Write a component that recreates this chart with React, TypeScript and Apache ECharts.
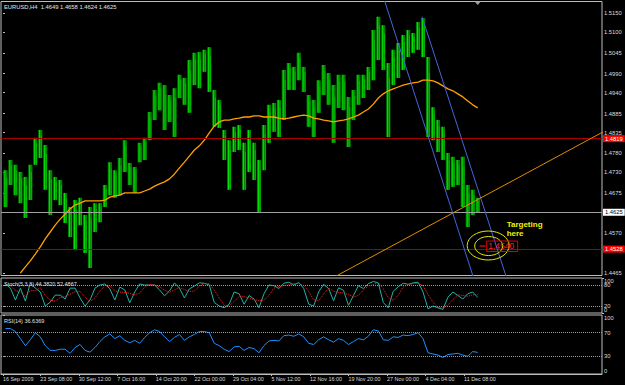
import React, { useEffect, useRef } from "react";
import * as echarts from "echarts";

const FONT = "'Liberation Sans', Arial, sans-serif";

// ---- data ----
const SYMBOL = "EURUSD,H4";
const LAST_OHLC = ["1.4649", "1.4658", "1.4624", "1.4625"];
const BARS_PER_SAMPLE = 4; // each sample summarises 4 H4 bars
const FIRST_SAMPLE_BAR = 2;

const HIGH = [
  1.4736, 1.4763, 1.475, 1.4731, 1.4718, 1.475, 1.4821, 1.4842, 1.4802, 1.4736,
  1.4718, 1.471, 1.4676, 1.4639, 1.4657, 1.4663, 1.4618, 1.4639, 1.4649, 1.4649,
  1.4697, 1.4757, 1.4736, 1.4768, 1.4815, 1.4755, 1.4744, 1.4808, 1.4821, 1.4889,
  1.4947, 1.4966, 1.496, 1.4934, 1.4952, 1.4987, 1.4979, 1.5026, 1.5045, 1.5047,
  1.5053, 1.506, 1.4947, 1.4921, 1.4842, 1.4815, 1.485, 1.4855, 1.4808, 1.4842,
  1.4808, 1.4763, 1.4855, 1.4908, 1.4913, 1.4921, 1.5, 1.5018, 1.5008, 1.5045,
  1.5008, 1.4934, 1.4921, 1.4973, 1.5013, 1.4992, 1.496, 1.4987, 1.4987, 1.4929,
  1.4947, 1.4987, 1.4987, 1.5008, 1.5105, 1.514, 1.5118, 1.5018, 1.5053, 1.5071,
  1.5092, 1.5105, 1.5097, 1.5126, 1.5137, 1.5034, 1.4902, 1.4868, 1.485, 1.4781,
  1.4771, 1.4763, 1.4771, 1.4697, 1.4684, 1.4663,
];
const LOW = [
  1.4639, 1.4697, 1.467, 1.4649, 1.461, 1.4657, 1.475, 1.4768, 1.4684, 1.4618,
  1.4657, 1.4644, 1.4597, 1.456, 1.4526, 1.4591, 1.4518, 1.4478, 1.4573, 1.4599,
  1.4639, 1.467, 1.4663, 1.467, 1.4731, 1.4697, 1.4676, 1.4757, 1.4763, 1.4815,
  1.4868, 1.4894, 1.4842, 1.4863, 1.4823, 1.4926, 1.4908, 1.4887, 1.496, 1.4952,
  1.4995, 1.4942, 1.485, 1.4847, 1.4763, 1.4684, 1.4784, 1.4789, 1.4684, 1.4731,
  1.471, 1.4626, 1.4736, 1.4808, 1.4837, 1.4823, 1.4868, 1.4947, 1.4947, 1.4973,
  1.4942, 1.485, 1.4823, 1.4887, 1.4934, 1.4908, 1.4808, 1.49, 1.4894, 1.4797,
  1.4868, 1.4908, 1.4926, 1.4947, 1.4973, 1.5026, 1.5, 1.4823, 1.496, 1.4979,
  1.5, 1.5034, 1.5045, 1.5053, 1.5034, 1.4823, 1.4815, 1.4784, 1.4763, 1.4684,
  1.4692, 1.4697, 1.4639, 1.4586, 1.4618, 1.4623,
];
const MA = [
  null, null, null, 1.4465, 1.4481, 1.4497, 1.4515, 1.4534, 1.4555, 1.4573,
  1.4591, 1.4607, 1.462, 1.4634, 1.4644, 1.4649, 1.4655, 1.4655, 1.4655, 1.4655,
  1.4657, 1.4665, 1.4668, 1.467, 1.4676, 1.4676, 1.4676, 1.4676, 1.4681, 1.4686,
  1.4694, 1.47, 1.4705, 1.4713, 1.4726, 1.4742, 1.4757, 1.4773, 1.4789, 1.48,
  1.4815, 1.4834, 1.4852, 1.4863, 1.4868, 1.4868, 1.4871, 1.4873, 1.4876, 1.4876,
  1.4879, 1.4879, 1.4876, 1.4876, 1.4876, 1.4873, 1.4871, 1.4873, 1.4876, 1.4879,
  1.4881, 1.4879, 1.4873, 1.4871, 1.4868, 1.4866, 1.4863, 1.4866, 1.4868, 1.4871,
  1.4876, 1.4881, 1.4889, 1.4897, 1.491, 1.4926, 1.4937, 1.4945, 1.495, 1.4955,
  1.496, 1.4963, 1.4966, 1.4968, 1.4973, 1.4973, 1.4971, 1.4966, 1.4958, 1.495,
  1.4945, 1.4937, 1.4929, 1.4918, 1.4908, 1.49,
];
const STOCH_MAIN = [
  83, 71, 37, 71, 34, 86, 71, 60, 20, 31, 51, 51, 40, 71, 71, 43, 20, 37, 71, 80,
  83, 69, 37, 74, 66, 29, 60, 83, 80, 80, 80, 66, 49, 63, 86, 71, 43, 69, 77, 86,
  85, 80, 30, 20, 15, 25, 60, 55, 25, 50, 40, 15, 55, 80, 78, 70, 85, 88, 80, 87,
  70, 25, 20, 60, 82, 70, 35, 72, 65, 22, 50, 78, 70, 84, 90, 86, 30, 15, 62, 75,
  85, 82, 86, 88, 60, 12, 20, 15, 10, 45, 60, 50, 40, 55, 60, 44.382,
];
const STOCH_SIGNAL = [
  80, 78, 64, 60, 47, 64, 64, 72, 50, 37, 34, 44, 47, 54, 61, 62, 45, 33, 43, 63,
  78, 77, 63, 60, 59, 56, 52, 57, 74, 81, 80, 75, 65, 59, 66, 73, 67, 61, 63, 77,
  84, 84, 65, 43, 22, 20, 33, 47, 47, 43, 38, 35, 37, 50, 71, 76, 78, 81, 84, 85,
  79, 61, 38, 35, 54, 71, 62, 59, 57, 53, 46, 50, 66, 77, 81, 87, 69, 44, 36, 51,
  74, 81, 84, 85, 78, 53, 31, 16, 15, 23, 38, 52, 50, 48, 52, 52.4867,
];
const RSI = [
  77, 77, 72, 60, 48, 58, 70, 63, 48, 40, 40, 42, 42, 35, 45, 50, 40, 37, 45, 55,
  63, 68, 60, 65, 57, 53, 57, 52, 62, 70, 75, 72, 63, 55, 62, 67, 57, 63, 67, 72,
  72, 70, 52, 48, 42, 38, 46, 47, 40, 45, 43, 36, 48, 56, 57, 56, 65, 66, 64, 68,
  63, 52, 50, 58, 63, 58, 54, 60, 57, 50, 55, 60, 58, 64, 75, 73, 58, 57, 63, 62,
  66, 65, 67, 70, 60, 36, 34, 32, 28, 33, 34, 35, 32, 30, 38, 36.6369,
];

const TIME_TICK_BARS = [0, 30, 61, 92, 123, 154, 185, 216, 247, 278, 309, 340, 371];
const TIME_TICK_LABELS = [
  "16 Sep 2009", "23 Sep 08:00", "30 Sep 12:00", "7 Oct 16:00", "14 Oct 20:00",
  "22 Oct 00:00", "29 Oct 04:00", "5 Nov 12:00", "12 Nov 16:00", "19 Nov 20:00",
  "27 Nov 00:00", "4 Dec 04:00", "11 Dec 08:00",
];
const PRICE_TICKS = [1.515, 1.51, 1.5045, 1.499, 1.494, 1.4885, 1.4835, 1.478, 1.473, 1.4675, 1.457, 1.4465];
const STOCH_EDGE_TICKS = [0, 100];
const STOCH_LEVELS = [80, 20];
const RSI_TICKS = [0, 30, 70, 100];
const RSI_LEVELS = [70, 30];

// horizontal objects
const RESIST_LEVEL = 1.4819;
const BID_LEVEL = 1.4625;
const SUPPORT_LEVEL = 1.4528;

// trend lines [bar, price]
const CHANNEL_LEFT = [[301.7, 1.5237], [381.8, 1.442]];
const CHANNEL_RIGHT = [[337.2, 1.514], [408.4, 1.442]];
const TREND_UP = [[247.2, 1.442], [500.5, 1.4868]];

// target annotation
const TARGET_BAR = 390;
const TARGET_PRICE = 1.454;
const TARGET_TEXT = "1.4540";
const NOTE_TEXT = "Targeting\nhere";

// ---- layout ----
const X_MIN = -1.6;
const X_MAX = 482;
const PRICE_MIN = 1.44584;
const PRICE_MAX = 1.51803;

export default function App() {
  const ref = useRef<HTMLDivElement>(null);

  useEffect(() => {
    const el = ref.current;
    if (!el) return;
    const chart = echarts.init(el, null, { renderer: "svg" });
    const sampleBar = (i: number) => FIRST_SAMPLE_BAR + i * BARS_PER_SAMPLE;
    const axisText = "#dcdcdc";
    const frame = "#bdbdbd";

    const gridBase = {
      left: 1,
      right: 23,
      show: true,
      borderColor: frame,
      borderWidth: 1,
      backgroundColor: "transparent",
    };

    const hiddenX = (gridIndex: number) => ({
      gridIndex,
      type: "value",
      min: X_MIN,
      max: X_MAX,
      show: false,
    });

    const rightY = (gridIndex: number, min: number, max: number, ticks: number[], fmt: (v: number) => string, edge: boolean) => ({
      gridIndex,
      type: "value",
      position: "right",
      offset: 0,
      min,
      max,
      axisLine: { show: false },
      splitLine: { show: false },
      axisTick: { show: true, customValues: ticks, length: 2, lineStyle: { color: frame } },
      axisLabel: {
        customValues: ticks,
        formatter: fmt,
        color: axisText,
        fontSize: 5.8,
        fontFamily: FONT,
        margin: 2,
        showMinLabel: true,
        showMaxLabel: true,
        hideOverlap: false,
        ...(edge ? { verticalAlignMinLabel: "bottom", verticalAlignMaxLabel: "top" } : {}),
      },
    });

    const priceLabel = (value: number, bg: string, fg: string, line: string) => ({
      yAxis: value,
      lineStyle: { color: line, width: 1, type: "solid" },
      label: {
        show: true,
        position: "end",
        distance: 1,
        formatter: value.toFixed(4),
        backgroundColor: bg,
        color: fg,
        fontSize: 5.8,
        fontFamily: FONT,
        padding: [1, 2, 0, 2],
      },
    });

    const option: any = {
      animation: false,
      backgroundColor: "#000000",
      grid: [
        { ...gridBase, top: 1.5, height: 274 },
        { ...gridBase, top: 278, height: 35 },
        { ...gridBase, top: 315, height: 59 },
      ],
      xAxis: [
        hiddenX(0),
        hiddenX(1),
        {
          gridIndex: 2,
          type: "value",
          min: X_MIN,
          max: X_MAX,
          axisLine: { show: true, lineStyle: { color: frame } },
          splitLine: { show: false },
          axisTick: { show: true, customValues: TIME_TICK_BARS, length: 2, lineStyle: { color: frame } },
          axisLabel: {
            customValues: TIME_TICK_BARS,
            formatter: (v: number) => {
              const k = TIME_TICK_BARS.indexOf(Math.round(v));
              return k >= 0 ? TIME_TICK_LABELS[k] : "";
            },
            align: "left",
            color: axisText,
            fontSize: 5.4,
            fontFamily: FONT,
            margin: 2,
          },
        },
      ],
      yAxis: [
        rightY(0, PRICE_MIN, PRICE_MAX, PRICE_TICKS, (v) => v.toFixed(4), false),
        rightY(1, 0, 100, STOCH_LEVELS.slice().reverse(), (v) => String(v), false),
        rightY(2, 0, 100, RSI_TICKS, (v) => String(v), true),
        rightY(1, 0, 100, STOCH_EDGE_TICKS, (v) => String(v), true),
      ],
      series: [
        {
          type: "custom",
          name: "price",
          xAxisIndex: 0,
          yAxisIndex: 0,
          clip: true,
          z: 2,
          data: HIGH.map((h, i) => [sampleBar(i), LOW[i], h]),
          encode: { x: 0, y: [1, 2] },
          renderItem: (_p: any, api: any) => {
            const x = api.value(0);
            const lo = api.coord([x, api.value(1)]);
            const hi = api.coord([x, api.value(2)]);
            const w = 4.2;
            return {
              type: "group",
              children: [
                {
                  type: "rect",
                  shape: { x: lo[0] - w / 2, y: hi[1], width: w, height: Math.max(1, lo[1] - hi[1]) },
                  style: { fill: "#007f00" },
                },
                {
                  type: "line",
                  shape: { x1: lo[0] - 0.6, y1: hi[1], x2: lo[0] - 0.6, y2: lo[1] },
                  style: { stroke: "#00e800", lineWidth: 1 },
                },
                {
                  type: "line",
                  shape: { x1: lo[0] + 1.2, y1: hi[1] + (lo[1] - hi[1]) * 0.2, x2: lo[0] + 1.2, y2: lo[1] },
                  style: { stroke: "#00c400", lineWidth: 0.8 },
                },
              ],
            };
          },
        },
        {
          type: "line",
          name: "MA",
          xAxisIndex: 0,
          yAxisIndex: 0,
          z: 4,
          symbol: "none",
          lineStyle: { color: "#ffa000", width: 1.3 },
          data: MA.map((v, i) => (v == null ? null : [sampleBar(i), v])).filter((d) => d !== null),
          markLine: {
            silent: true,
            precision: 4,
            symbol: ["none", "none"],
            animation: false,
            data: [
              priceLabel(RESIST_LEVEL, "#ff0000", "#ffffff", "#a80000"),
              priceLabel(BID_LEVEL, "#ffffff", "#000000", "#a0a0a0"),
              priceLabel(SUPPORT_LEVEL, "#ff0000", "#ffffff", "#a80000"),
            ],
          },
        },
        {
          type: "line",
          name: "channel-left",
          xAxisIndex: 0,
          yAxisIndex: 0,
          z: 5,
          symbol: "none",
          clip: true,
          lineStyle: { color: "#4466dd", width: 1 },
          data: CHANNEL_LEFT,
        },
        {
          type: "line",
          name: "channel-right",
          xAxisIndex: 0,
          yAxisIndex: 0,
          z: 5,
          symbol: "none",
          clip: true,
          lineStyle: { color: "#4466dd", width: 1 },
          data: CHANNEL_RIGHT,
        },
        {
          type: "line",
          name: "trend",
          xAxisIndex: 0,
          yAxisIndex: 0,
          z: 5,
          symbol: "none",
          clip: true,
          lineStyle: { color: "#e08c00", width: 1 },
          data: TREND_UP,
        },
        {
          type: "line",
          name: "stoch",
          xAxisIndex: 1,
          yAxisIndex: 1,
          symbol: "none",
          z: 4,
          lineStyle: { color: "#20b2aa", width: 1 },
          data: STOCH_MAIN.map((v, i) => [sampleBar(i), v]),
          markLine: {
            silent: true,
            precision: 2,
            symbol: ["none", "none"],
            label: { show: false },
            lineStyle: { color: "#9a9a9a", type: "dotted", width: 1 },
            data: STOCH_LEVELS.map((v) => ({ yAxis: v })),
          },
        },
        {
          type: "line",
          name: "signal",
          xAxisIndex: 1,
          yAxisIndex: 1,
          symbol: "none",
          z: 5,
          lineStyle: { color: "#ff2020", width: 1, type: "dotted" },
          data: STOCH_SIGNAL.map((v, i) => [sampleBar(i), v]),
        },
        {
          type: "line",
          name: "rsi",
          xAxisIndex: 2,
          yAxisIndex: 2,
          symbol: "none",
          z: 4,
          lineStyle: { color: "#1e90ff", width: 1 },
          data: RSI.map((v, i) => [sampleBar(i), v]),
          markLine: {
            silent: true,
            precision: 2,
            symbol: ["none", "none"],
            label: { show: false },
            lineStyle: { color: "#9a9a9a", type: "dotted", width: 1 },
            data: RSI_LEVELS.map((v) => ({ yAxis: v })),
          },
        },
      ],
    };

    chart.setOption(option);

    const [ax, ay] = chart.convertToPixel({ xAxisIndex: 0, yAxisIndex: 0 }, [TARGET_BAR, TARGET_PRICE]) as number[];
    const lastBar = sampleBar(HIGH.length - 1);
    const [sx] = chart.convertToPixel({ xAxisIndex: 0, yAxisIndex: 0 }, [lastBar, PRICE_MAX]) as number[];
    const lastStoch = STOCH_MAIN[STOCH_MAIN.length - 1];
    const lastSignal = STOCH_SIGNAL[STOCH_SIGNAL.length - 1];
    const lastRsi = RSI[RSI.length - 1];

    const txt = (x: number, y: number, text: string, size: number, fill: string, weight = "normal", lh?: number) => ({
      type: "text",
      x,
      y,
      z: 100,
      style: {
        text,
        fill,
        fontSize: size,
        fontFamily: FONT,
        fontWeight: weight,
        align: "left",
        verticalAlign: "top",
        lineHeight: lh,
      },
    });

    chart.setOption({
      graphic: [
        txt(4, 4, `${SYMBOL}  ${LAST_OHLC.join(" ")}`, 5.8, "#e6e6e6"),
        txt(4, 281, `Stoch(5,3,3) ${lastStoch.toFixed(4)} ${lastSignal.toFixed(4)}`, 5.5, "#e0e0e0"),
        txt(4, 318, `RSI(14) ${lastRsi.toFixed(4)}`, 5.5, "#e0e0e0"),
        {
          type: "polygon",
          z: 100,
          shape: { points: [[sx - 3, 1.5], [sx + 3, 1.5], [sx, 5]] },
          style: { fill: "#9aa0b0" },
        },
        {
          type: "ellipse",
          z: 100,
          shape: { cx: ax + 0.5, cy: ay + 1, rx: 21, ry: 14.5 },
          style: { fill: "none", stroke: "#e6e600", lineWidth: 1 },
        },
        {
          type: "ellipse",
          z: 100,
          shape: { cx: ax + 1, cy: ay + 1.5, rx: 14, ry: 9.5 },
          style: { fill: "none", stroke: "#e6e600", lineWidth: 1 },
        },
        {
          type: "line",
          z: 101,
          shape: { x1: ax - 8, y1: ay + 1.5, x2: ax - 2, y2: ay + 1.5 },
          style: { stroke: "#ff2020", lineWidth: 1 },
        },
        {
          type: "rect",
          z: 101,
          shape: { x: ax - 1, y: ay - 3.5, width: 31, height: 10.5 },
          style: { fill: "none", stroke: "#e00000", lineWidth: 1 },
        },
        txt(ax + 0.5, ay - 3, TARGET_TEXT, 8.5, "#ff2020"),
        txt(ax + 19, ay - 25, NOTE_TEXT, 8, "#f0f000", "bold", 9.5),
      ],
    });

    return () => chart.dispose();
  }, []);

  return (
    <div
      ref={ref}
      style={{ position: "fixed", left: 0, top: 0, width: 625, height: 385, background: "#000" }}
    />
  );
}
